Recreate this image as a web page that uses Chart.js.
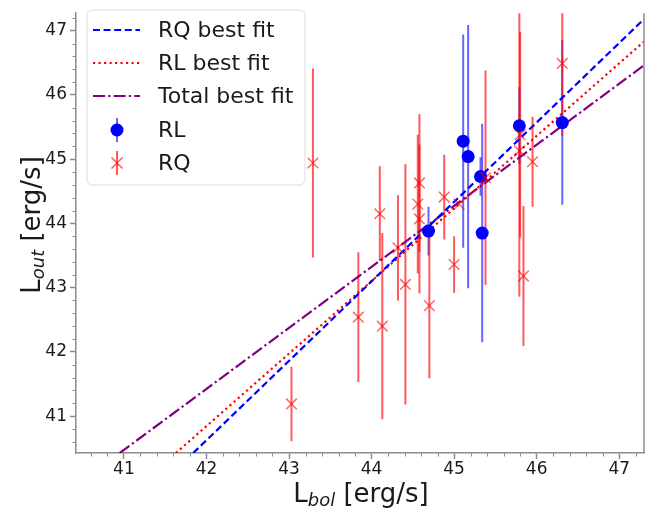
<!DOCTYPE html>
<html>
<head>
<meta charset="utf-8">
<script src="https://cdn.jsdelivr.net/npm/chart.js@4.4.0/dist/chart.umd.min.js"></script>
<style>
  body { margin: 0; background: #fff; }
  #wrap { width: 666px; height: 514px; }
</style>
</head>
<body>
<div id="wrap"><canvas id="lumChart" width="666" height="514"></canvas></div>
<script>
// Axis limits and tick labels
const xLimits = [40.42, 47.30];
const yLimits = [40.426, 47.272];
const xTickValues = [41, 42, 43, 44, 45, 46, 47];
const yTickValues = [41, 42, 43, 44, 45, 46, 47];

// RL sources (blue circles)
const rlX = [45.11, 45.17, 45.32, 44.69, 45.34, 45.79, 46.31];
const rlY = [45.28, 45.04, 44.73, 43.88, 43.85, 45.52, 45.57];
const rlErrLo = [1.66, 2.05, 0.30, 0.38, 1.70, 0.60, 1.28];
const rlErrHi = [1.66, 2.05, 0.30, 0.38, 1.70, 0.60, 1.28];

// RQ sources (red crosses)
const rqX = [43.29, 43.03, 43.84, 44.13, 44.41, 44.70, 45.00, 45.84, 44.32, 44.58,
             44.56, 44.58, 44.10, 44.88, 45.06, 45.38, 45.79, 45.80, 45.95, 46.31];
const rqY = [44.94, 41.19, 42.54, 42.40, 43.05, 42.72, 43.36, 43.18, 43.62, 44.63,
             44.30, 44.07, 44.15, 44.41, 44.30, 44.71, 45.13, 45.38, 44.96, 46.49];
const rqErr = [1.47, 0.58, 1.01, 1.45, 1.87, 1.13, 0.44, 1.09, 0.82, 1.07,
               1.08, 1.16, 0.74, 0.66, 0.00, 1.67, 2.27, 1.60, 0.70, 1.13];

// Best fit lines (end points where they leave the frame)
const rqFitX = [41.84, 47.30];
const rqFitY = [40.426, 47.18];
const rlFitX = [41.63, 47.30];
const rlFitY = [40.426, 46.83];
const totFitX = [40.95, 47.30];
const totFitY = [40.426, 46.46];

const BLUE = '#0000ff';
const RED = '#ff0000';
const PURPLE = '#800080';
const BLUE_ERR = 'rgba(0,0,255,0.6)';
const RED_ERR = 'rgba(255,0,0,0.65)';
const AXIS_GREY = '#8c8c8c';
const FONT = '"DejaVu Sans", sans-serif';

function pts(xs, ys) {
    return xs.map((x, i) => ({ x: x, y: ys[i] }));
}

function drawCross(ctx, cx, cy, r) {
    ctx.beginPath();
    ctx.moveTo(cx - r, cy - r); ctx.lineTo(cx + r, cy + r);
    ctx.moveTo(cx - r, cy + r); ctx.lineTo(cx + r, cy - r);
    ctx.stroke();
}

// vertical error bars, drawn under the markers
const errorBars = {
    id: 'errorBars',
    beforeDatasetsDraw(chart) {
        const { ctx, chartArea, scales } = chart;
        const drawSet = (xs, ys, lo, hi, color) => {
            ctx.strokeStyle = color;
            ctx.lineWidth = 2;
            xs.forEach((xv, i) => {
                const px = scales.x.getPixelForValue(xv);
                ctx.beginPath();
                ctx.moveTo(px, scales.y.getPixelForValue(ys[i] - lo[i]));
                ctx.lineTo(px, scales.y.getPixelForValue(ys[i] + hi[i]));
                ctx.stroke();
            });
        };
        ctx.save();
        ctx.beginPath();
        ctx.rect(chartArea.left, chartArea.top, chartArea.right - chartArea.left, chartArea.bottom - chartArea.top);
        ctx.clip();
        drawSet(rlX, rlY, rlErrLo, rlErrHi, BLUE_ERR);
        drawSet(rqX, rqY, rqErr, rqErr, RED_ERR);
        ctx.restore();
    }
};

// minor ticks, right spine, axis titles and the legend box
const decorations = {
    id: 'decorations',
    afterDraw(chart) {
        const { ctx, chartArea, scales } = chart;
        ctx.save();
        ctx.strokeStyle = AXIS_GREY;

        // right spine
        ctx.lineWidth = 1.5;
        ctx.beginPath();
        ctx.moveTo(chartArea.right, chartArea.top);
        ctx.lineTo(chartArea.right, chartArea.bottom);
        ctx.stroke();

        // minor ticks every 0.2
        ctx.lineWidth = 1;
        for (let v = 40.6; v < xLimits[1]; v += 0.2) {
            if (Math.abs(v - Math.round(v)) < 0.01) continue;
            const px = Math.round(scales.x.getPixelForValue(v)) + 0.5;
            ctx.beginPath();
            ctx.moveTo(px, chartArea.bottom);
            ctx.lineTo(px, chartArea.bottom + 3.5);
            ctx.stroke();
        }
        for (let v = 40.6; v < yLimits[1]; v += 0.2) {
            if (Math.abs(v - Math.round(v)) < 0.01) continue;
            const py = Math.round(scales.y.getPixelForValue(v)) + 0.5;
            ctx.beginPath();
            ctx.moveTo(chartArea.left, py);
            ctx.lineTo(chartArea.left - 3.5, py);
            ctx.stroke();
        }

        // axis titles with subscripts
        ctx.fillStyle = '#1a1a1a';
        ctx.textBaseline = 'alphabetic';
        const title = (sub, mainSize, subSize) => {
            ctx.font = mainSize + 'px ' + FONT;
            const wL = ctx.measureText('L').width;
            const wRest = ctx.measureText(' [erg/s]').width;
            ctx.font = 'italic ' + subSize + 'px ' + FONT;
            const wSub = ctx.measureText(sub).width;
            return { wL, wRest, wSub, total: wL + wRest + wSub };
        };
        const drawTitle = (sub, start, base) => {
            const m = title(sub, 26, 18);
            ctx.font = '26px ' + FONT;
            ctx.fillText('L', start, base);
            ctx.font = 'italic 18px ' + FONT;
            ctx.fillText(sub, start + m.wL, base + 4);
            ctx.font = '26px ' + FONT;
            ctx.fillText(' [erg/s]', start + m.wL + m.wSub, base);
            return m;
        };
        const mx = title('bol', 26, 18);
        drawTitle('bol', 361 - mx.total / 2, 502);

        ctx.save();
        ctx.translate(40, 225);
        ctx.rotate(-Math.PI / 2);
        const my = title('out', 26, 18);
        drawTitle('out', -my.total / 2, 0);
        ctx.restore();

        // legend
        const lx = 87, ly = 10, lw = 218, lh = 175;
        ctx.beginPath();
        ctx.roundRect(lx, ly, lw, lh, 5);
        ctx.fillStyle = 'rgba(255,255,255,0.85)';
        ctx.fill();
        ctx.strokeStyle = '#dcdcdc';
        ctx.lineWidth = 1;
        ctx.stroke();

        const rows = [30, 63, 96, 130, 163];
        const ds = chart.data.datasets;
        ctx.font = '22px ' + FONT;
        ctx.textBaseline = 'middle';
        ds.forEach((d, i) => {
            const ry = rows[i];
            if (d.showLine) {
                ctx.strokeStyle = d.borderColor;
                ctx.lineWidth = d.borderWidth;
                ctx.setLineDash(d.borderDash);
                ctx.beginPath();
                ctx.moveTo(93, ry);
                ctx.lineTo(140, ry);
                ctx.stroke();
                ctx.setLineDash([]);
            } else if (d.label === 'RL') {
                ctx.strokeStyle = BLUE_ERR;
                ctx.lineWidth = 2;
                ctx.beginPath();
                ctx.moveTo(117, ry - 12); ctx.lineTo(117, ry + 12);
                ctx.stroke();
                ctx.fillStyle = BLUE;
                ctx.beginPath();
                ctx.arc(117, ry, 6.5, 0, Math.PI * 2);
                ctx.fill();
            } else {
                ctx.strokeStyle = RED_ERR;
                ctx.lineWidth = 2;
                ctx.beginPath();
                ctx.moveTo(117, ry - 12); ctx.lineTo(117, ry + 12);
                ctx.stroke();
                ctx.lineWidth = 1.5;
                drawCross(ctx, 117, ry, 5.5);
            }
            ctx.fillStyle = '#1a1a1a';
            ctx.fillText(d.label, 158, ry + 1);
        });
        ctx.restore();
    }
};

const ctx = document.getElementById('lumChart').getContext('2d');
new Chart(ctx, {
    type: 'scatter',
    data: {
        datasets: [
            {
                label: 'RQ best fit', type: 'line', showLine: true,
                data: pts(rqFitX, rqFitY),
                borderColor: BLUE, borderWidth: 2.2, borderDash: [7, 3.6],
                pointRadius: 0, fill: false, order: 3
            },
            {
                label: 'RL best fit', type: 'line', showLine: true,
                data: pts(rlFitX, rlFitY),
                borderColor: RED, borderWidth: 2.2, borderDash: [2.2, 3.3],
                pointRadius: 0, fill: false, order: 3
            },
            {
                label: 'Total best fit', type: 'line', showLine: true,
                data: pts(totFitX, totFitY),
                borderColor: PURPLE, borderWidth: 2.2, borderDash: [12, 3.2, 2.2, 3.2],
                pointRadius: 0, fill: false, order: 3
            },
            {
                label: 'RL', data: pts(rlX, rlY),
                pointStyle: 'circle', pointRadius: 6.5, pointHoverRadius: 6.5,
                backgroundColor: BLUE, borderColor: BLUE, borderWidth: 0, order: 2
            },
            {
                label: 'RQ', data: pts(rqX, rqY),
                pointStyle: 'crossRot', pointRadius: 7.5, pointHoverRadius: 7.5,
                borderColor: 'rgba(255,0,0,0.6)', borderWidth: 1.5, order: 1
            }
        ]
    },
    options: {
        responsive: false,
        animation: false,
        layout: { padding: { left: 0, right: 22, top: 0, bottom: 0 } },
        plugins: {
            legend: { display: false },
            tooltip: { enabled: false }
        },
        scales: {
            x: {
                type: 'linear',
                min: xLimits[0], max: xLimits[1],
                afterFit: s => { s.height = 61; },
                afterBuildTicks: s => { s.ticks = xTickValues.map(v => ({ value: v })); },
                ticks: { font: { family: FONT, size: 17 }, color: '#1a1a1a', padding: 0, maxRotation: 0 },
                grid: { drawOnChartArea: false, tickLength: 6, tickWidth: 1.5, tickColor: AXIS_GREY },
                border: { color: AXIS_GREY, width: 1.5 }
            },
            y: {
                type: 'linear',
                min: yLimits[0], max: yLimits[1],
                afterFit: s => { s.width = 76; },
                afterBuildTicks: s => { s.ticks = yTickValues.map(v => ({ value: v })); },
                ticks: { font: { family: FONT, size: 17 }, color: '#1a1a1a', padding: 3 },
                grid: { drawOnChartArea: false, tickLength: 6, tickWidth: 1.5, tickColor: AXIS_GREY },
                border: { color: AXIS_GREY, width: 1.5 }
            }
        }
    },
    plugins: [errorBars, decorations]
});
</script>
</body>
</html>
